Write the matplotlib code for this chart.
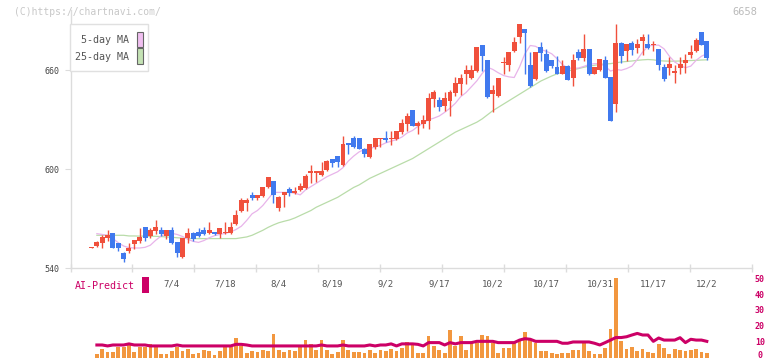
import numpy as np
import matplotlib
matplotlib.use("Agg")
import matplotlib.pyplot as plt
from matplotlib.patches import Rectangle
from matplotlib.transforms import ScaledTranslation

# daily candles (price in yen)
opens = [552.5, 553.3, 555.3, 558.4, 561.2, 555.2, 549.1, 550.3, 554.5, 556.4,
         564.8, 559.4, 562.4, 563.0, 559.6, 563.0, 555.8, 546.7, 558.2, 561.2,
         561.8, 563.0, 561.2, 561.8, 560.6, 561.2, 561.2, 566.7, 574.5, 579.4,
         584.2, 582.6, 583.6, 589.1, 592.7, 576.4, 584.2, 587.9, 585.5, 587.3,
         588.5, 597.6, 597.6, 596.4, 599.4, 606.1, 607.9, 602.4, 615.8, 618.8,
         618.8, 612.1, 607.3, 613.3, 618.2, 618.8, 618.2, 618.2, 622.4, 627.3,
         635.8, 626.1, 627.3, 629.1, 642.4, 641.8, 638.2, 641.2, 646.1, 651.5,
         657.6, 655.2, 659.4, 675.2, 666.1, 645.5, 644.2, 664.5, 663.0, 671.5,
         680.0, 684.8, 663.0, 654.5, 673.9, 669.7, 666.1, 661.7, 658.0, 662.8,
         655.2, 670.9, 667.3, 672.7, 658.0, 660.0, 666.1, 655.8, 639.4, 676.8,
         671.5, 676.8, 673.3, 677.6, 675.8, 675.5, 672.7, 661.7, 661.2, 658.6,
         661.2, 664.2, 669.1, 671.5, 683.1, 677.6]
highs = [553.0, 556.5, 560.0, 563.0, 561.5, 555.5, 549.7, 555.2, 557.3, 564.2,
         565.0, 564.2, 569.1, 564.8, 563.3, 564.8, 556.0, 558.5, 564.2, 561.8,
         564.2, 564.8, 567.9, 562.0, 564.5, 567.9, 567.9, 575.1, 582.4, 582.4,
         586.1, 584.5, 589.3, 595.4, 593.0, 583.6, 586.3, 589.1, 589.1, 591.5,
         597.0, 602.4, 599.0, 604.2, 605.5, 606.3, 608.0, 620.0, 616.0, 620.0,
         619.0, 612.7, 615.5, 619.0, 619.0, 623.0, 623.0, 623.3, 630.3, 633.9,
         636.0, 629.1, 632.7, 646.1, 647.9, 643.6, 646.7, 647.9, 655.8, 657.6,
         663.0, 663.0, 674.0, 675.5, 666.3, 650.9, 655.5, 667.9, 671.0, 680.0,
         688.0, 685.0, 670.9, 671.0, 677.0, 672.7, 666.3, 668.9, 666.1, 663.0,
         669.7, 672.7, 681.8, 673.0, 662.0, 666.9, 668.9, 656.0, 687.9, 677.0,
         676.0, 678.0, 678.8, 681.8, 681.8, 677.6, 673.0, 663.6, 667.9, 663.0,
         667.9, 669.7, 675.2, 679.4, 683.3, 677.8]
lows = [552.5, 553.0, 552.3, 556.4, 552.0, 550.5, 543.8, 549.5, 551.7, 555.6,
        556.4, 558.2, 561.0, 559.4, 557.6, 555.0, 546.7, 546.5, 555.2, 556.4,
        559.0, 560.4, 561.0, 560.4, 558.6, 561.0, 561.0, 566.5, 574.0, 574.5,
        581.2, 581.2, 583.4, 588.5, 579.4, 574.5, 577.0, 583.6, 585.3, 587.0,
        588.0, 591.5, 592.1, 596.0, 599.0, 601.2, 601.2, 602.0, 609.1, 613.0,
        612.0, 607.3, 607.0, 612.1, 613.3, 616.4, 614.5, 618.0, 621.2, 623.0,
        626.0, 621.2, 624.8, 624.2, 637.6, 635.2, 635.2, 632.1, 644.2, 644.8,
        651.5, 654.5, 658.8, 659.4, 643.0, 634.5, 644.0, 657.6, 659.4, 671.0,
        676.4, 657.6, 650.0, 654.0, 665.5, 659.0, 661.2, 657.8, 657.8, 654.0,
        650.3, 666.1, 665.5, 657.4, 657.6, 659.4, 655.0, 629.0, 634.5, 664.2,
        665.5, 669.0, 670.3, 669.0, 673.0, 671.5, 660.0, 653.3, 657.0, 652.1,
        657.6, 658.2, 667.3, 671.2, 675.0, 666.1]
closes = [553.0, 555.8, 558.8, 560.0, 552.3, 552.3, 545.7, 552.1, 557.0, 558.8,
          558.2, 563.0, 564.8, 560.6, 563.0, 555.3, 549.1, 558.2, 561.2, 557.6,
          559.4, 560.6, 563.0, 560.6, 564.2, 561.8, 564.8, 572.1, 581.2, 581.2,
          582.6, 584.2, 589.1, 595.2, 584.2, 583.0, 586.1, 585.5, 586.7, 589.7,
          595.8, 598.8, 598.8, 598.8, 604.8, 603.6, 604.2, 615.2, 614.5, 613.3,
          612.1, 609.1, 615.2, 618.8, 618.8, 617.6, 618.8, 623.0, 627.9, 632.1,
          626.1, 627.9, 629.7, 643.0, 646.7, 637.6, 643.0, 646.7, 652.1, 655.2,
          660.0, 660.0, 673.9, 668.5, 643.6, 647.9, 655.2, 665.0, 670.9, 677.0,
          687.9, 682.4, 650.3, 670.9, 670.3, 659.4, 662.4, 658.0, 662.8, 654.3,
          666.1, 667.3, 672.7, 657.6, 661.7, 666.7, 655.2, 629.1, 676.8, 668.9,
          675.8, 672.1, 675.8, 680.0, 673.3, 676.0, 663.0, 654.5, 663.6, 659.0,
          663.6, 666.1, 670.9, 678.2, 675.2, 667.3]

ma5 = [np.nan, 561.0, 560.5, 560.0, 558.0, 555.5, 553.5, 552.5, 552.3, 552.3,
       552.7, 554.0, 557.0, 559.5, 561.0, 561.2, 560.5, 559.3, 557.6, 556.3,
       555.7, 556.8, 558.5, 559.8, 560.5, 561.2, 562.0, 563.5, 565.5, 569.0,
       573.0, 575.0, 578.0, 582.0, 586.0, 586.0, 586.0, 586.0, 585.5, 584.5,
       587.5, 589.5, 591.5, 593.5, 595.5, 597.0, 598.5, 601.0, 605.0, 608.0,
       610.5, 612.0, 612.5, 613.5, 614.5, 616.0, 617.0, 618.0, 619.5, 622.0,
       623.5, 626.0, 628.0, 630.0, 631.0, 632.3, 634.5, 637.0, 640.0, 644.0,
       646.5, 650.0, 653.5, 658.0, 661.8, 660.5, 658.5, 656.8, 656.0, 655.6,
       662.0, 670.0, 675.0, 674.5, 672.5, 671.5, 670.0, 667.0, 663.5, 661.3,
       661.2, 661.3, 662.3, 663.5, 664.0, 664.0, 662.5, 659.5, 660.5, 660.0,
       661.0, 662.5, 666.5, 671.0, 674.5, 675.2, 675.2, 673.0, 668.5, 665.0,
       663.0, 661.5, 662.5, 666.0, 668.5, 670.0]
ma25 = [np.nan, 560.0, 560.0, 560.0, 560.0, 560.0, 560.0, 559.6, 559.6, 559.5,
        559.5, 559.4, 559.4, 559.2, 559.0, 558.8, 558.5, 558.3, 558.1, 558.0,
        558.0, 558.0, 558.0, 558.0, 558.0, 558.0, 558.0, 558.0, 558.5, 559.0,
        560.0, 561.5, 563.0, 564.8, 566.3, 567.6, 568.5, 569.3, 570.5, 572.0,
        573.5, 575.0, 577.0, 578.5, 580.0, 581.5, 583.0, 585.0, 587.0, 589.0,
        590.5, 592.5, 594.5, 596.0, 597.5, 599.0, 600.5, 602.0, 603.5, 605.0,
        606.5, 608.5, 610.5, 612.5, 614.5, 616.5, 618.5, 620.5, 622.5, 624.0,
        625.5, 627.0, 628.5, 630.5, 633.0, 635.5, 637.5, 639.5, 641.5, 643.5,
        645.5, 647.5, 649.5, 651.5, 653.5, 655.0, 656.5, 657.8, 658.8, 659.5,
        660.3, 661.0, 661.8, 662.5, 663.0, 663.5, 663.8, 664.0, 664.5, 665.0,
        665.3, 665.6, 666.0, 666.3, 666.5, 666.3, 665.8, 665.6, 665.5, 665.5,
        665.6, 665.7, 665.9, 666.0, 666.2, 666.3]

# volume and AI-Predict panel (no bar for the first candle)
volume = [2.3, 5.4, 3.6, 3.6, 6.8, 6.8, 8.6, 3.6, 6.8, 6.8,
          8.6, 6.8, 2.3, 2.3, 4.2, 6.8, 4.2, 5.4, 2.3, 2.9,
          4.8, 4.2, 1.8, 4.2, 6.8, 6.8, 12.3, 7.3, 2.9, 4.2,
          3.6, 4.8, 4.2, 14.8, 4.8, 3.6, 4.8, 4.2, 6.8, 11.0,
          8.6, 4.8, 11.0, 4.8, 2.3, 3.6, 11.0, 4.8, 3.6, 3.6,
          2.9, 4.8, 2.9, 4.8, 4.2, 5.4, 4.2, 6.1, 9.8, 8.6,
          2.9, 2.9, 13.6, 7.3, 4.8, 2.9, 17.3, 7.3, 13.6, 4.8,
          9.0, 9.0, 14.2, 13.6, 9.4, 2.9, 6.1, 6.1, 9.0, 11.0,
          16.1, 11.0, 9.4, 4.2, 4.2, 2.9, 2.3, 2.9, 2.9, 4.8,
          4.8, 9.4, 4.2, 2.3, 2.3, 6.1, 17.9, 50.0, 10.4, 5.4,
          6.8, 4.2, 5.4, 3.6, 2.9, 8.6, 6.1, 2.3, 5.4, 4.8,
          4.2, 4.8, 5.4, 3.6, 2.9]
ai_predict = [7.9, 7.9, 7.3, 7.9, 7.9, 7.9, 8.6, 7.9, 7.9, 7.9,
              7.3, 7.3, 7.3, 7.3, 7.3, 7.9, 7.3, 7.3, 7.3, 7.3,
              7.3, 7.3, 7.3, 7.3, 7.3, 7.3, 8.3, 8.3, 7.9, 7.3,
              7.3, 7.3, 7.3, 7.3, 7.3, 7.3, 7.3, 7.3, 7.3, 7.3,
              7.3, 7.3, 7.9, 7.3, 7.3, 7.3, 7.9, 7.3, 7.3, 7.3,
              7.3, 7.9, 7.3, 7.9, 7.9, 8.6, 7.3, 8.6, 8.6, 8.6,
              8.3, 7.3, 9.4, 9.4, 9.4, 7.9, 9.4, 8.6, 9.4, 9.4,
              9.4, 10.2, 10.2, 10.2, 10.2, 9.4, 9.4, 9.4, 9.4, 11.0,
              11.9, 11.5, 10.2, 10.2, 10.2, 10.2, 10.2, 9.0, 9.0, 9.8,
              9.8, 9.8, 9.8, 9.0, 7.9, 9.4, 11.0, 12.6, 12.6, 13.1,
              14.2, 15.2, 14.2, 14.2, 10.2, 12.3, 11.0, 11.0, 11.0, 12.5,
              9.4, 11.5, 11.0, 11.0, 10.2]

date_pos = [15, 25, 35, 45, 55, 65, 75, 85, 95, 105, 115]
date_labels = ["7/4", "7/18", "8/4", "8/19", "9/2", "9/17", "10/2",
               "10/17", "10/31", "11/17", "12/2"]
price_ticks = [540, 600, 660]
vol_ticks = [0, 10, 20, 30, 40, 50]

RED = "#f0503c"
BLUE = "#4079ee"
PINK = "#e8b4ea"
GREEN = "#b9dca9"
MAGENTA = "#cc0066"
ORANGE = "#f2973f"
AXC = "#dcdcdc"

W, H = 772, 361
plt.rcParams["font.family"] = ["DejaVu Sans Mono"]

fig = plt.figure(figsize=(W / 100, H / 100), dpi=100)


def box(x0, y0, x1, y1):
    return [x0 / W, 1 - y1 / H, (x1 - x0) / W, (y1 - y0) / H]


ax = fig.add_axes(box(70.5, 10, 752.3, 268.3))
axv = fig.add_axes(box(70.5, 278.3, 752.3, 357.5))
axv.patch.set_visible(False)

idx = np.arange(len(closes))
o = np.array(opens)
c = np.array(closes)
cols = np.where(c >= o, RED, BLUE)

ax.plot(idx, ma25, color=GREEN, lw=0.9, zorder=1)
ax.plot(idx, ma5, color=PINK, lw=0.9, zorder=1)
ax.vlines(idx, lows, highs, colors=cols, lw=1, zorder=2)
body = np.maximum(np.abs(c - o), 0.7)
ax.bar(idx, body, bottom=np.minimum(o, c), width=0.93, color=cols, lw=0, zorder=3)

xlim = (-3.93, 123.5)
ax.set_xlim(*xlim)
ax.set_ylim(540, 696.5)
for s in ["top", "right"]:
    ax.spines[s].set_visible(False)
for s in ["left", "bottom"]:
    ax.spines[s].set_color(AXC)
    ax.spines[s].set_linewidth(1)

ax.set_yticks(price_ticks)
ax.tick_params(axis="y", length=4, color=AXC, labelsize=6, labelcolor="#444", pad=4)
ax.set_xticks(date_pos)
ax.set_xticklabels(date_labels)
ax.set_xticks(np.linspace(xlim[0], xlim[1], 12), minor=True)
ax.tick_params(axis="x", which="major", length=0, labelsize=6.5, labelcolor="#555", pad=8)
ax.tick_params(axis="x", which="minor", direction="inout", length=6, color=AXC, width=1)

vidx = idx[1:]
axv.bar(vidx, volume, width=0.7, color=ORANGE, lw=0, zorder=1)
axv.plot(vidx, ai_predict, color=MAGENTA, lw=2.2, zorder=2)
axv.set_xlim(*xlim)
axv.set_ylim(0, 50)
for s in axv.spines.values():
    s.set_visible(False)
axv.set_xticks([])
axv.yaxis.tick_right()
axv.set_yticks(vol_ticks)
axv.tick_params(axis="y", length=0, labelsize=6, labelcolor=MAGENTA, pad=5.5)
for t in axv.get_yticklabels():
    t.set_horizontalalignment("center")
    t.set_fontweight("bold")
# nudge the "0" label up a little so it stays inside the figure
lab0 = axv.get_yticklabels()[0]
lab0.set_transform(lab0.get_transform() + ScaledTranslation(0, 2.5 / 100, fig.dpi_scale_trans))

tf = fig.transFigure
# legend box
fig.add_artist(Rectangle((70 / W, 1 - 71 / H), 78 / W, 47 / H, transform=tf,
                         facecolor="white", edgecolor="#e0e0e0", lw=1, zorder=10))
fig.text(129 / W, 1 - 40 / H, "5-day MA", ha="right", va="center",
         fontsize=7.2, color="#555", zorder=11)
fig.text(129 / W, 1 - 57 / H, "25-day MA", ha="right", va="center",
         fontsize=7.2, color="#555", zorder=11)
fig.add_artist(Rectangle((136.5 / W, 1 - 47 / H), 6 / W, 15 / H, transform=tf,
                         facecolor="#f0bff0", edgecolor="#666", lw=0.8, zorder=11))
fig.add_artist(Rectangle((136.5 / W, 1 - 63.5 / H), 6 / W, 15 / H, transform=tf,
                         facecolor="#c4e2b4", edgecolor="#666", lw=0.8, zorder=11))

fig.text(14 / W, 1 - 12 / H, "(C)https://chartnavi.com/", ha="left", va="center",
         fontsize=7, color="#c8c8c8")
fig.text(757 / W, 1 - 12 / H, "6658", ha="right", va="center",
         fontsize=7.5, color="#bbbbbb")

fig.text(75 / W, 1 - 286 / H, "AI-Predict", ha="left", va="center",
         fontsize=7.2, color=MAGENTA)
fig.add_artist(Rectangle((142 / W, 1 - 293 / H), 7 / W, 16 / H, transform=tf,
                         facecolor=MAGENTA, edgecolor="none", zorder=11))

fig.savefig("out.png", dpi=100)
